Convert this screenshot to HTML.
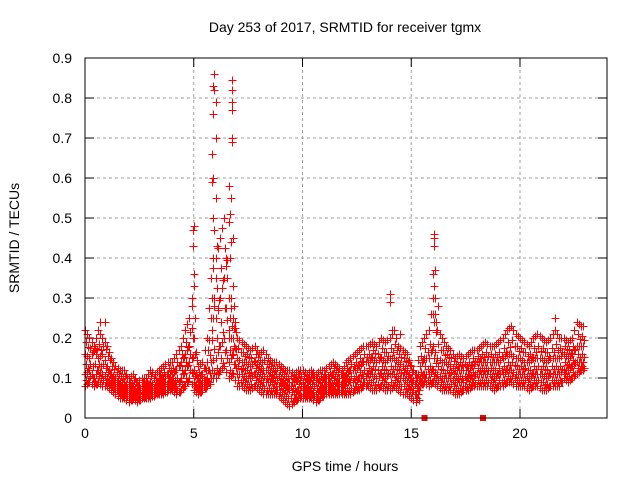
<!DOCTYPE html>
<html><head><meta charset="utf-8"><style>
body{margin:0;background:#fff}
svg{font-family:"Liberation Sans",sans-serif;display:block}
</style></head><body>
<svg id="c" width="640" height="480">
<rect width="640" height="480" fill="#fff"/>
<text x="345" y="32" font-size="14" text-anchor="middle">Day 253 of 2017, SRMTID for receiver tgmx</text>
<text transform="translate(19,238) rotate(-90)" font-size="14" text-anchor="middle">SRMTID / TECUs</text>
<text x="345" y="471" font-size="14" text-anchor="middle">GPS time / hours</text>
<g id="grid"></g><g id="pts" shape-rendering="crispEdges"></g>
<rect x="85" y="58" width="522" height="360" fill="none" stroke="#000" stroke-width="1"/>
</svg>
<script>
const xTicks=[0,5,10,15,20];
const yTicks=[0,0.1,0.2,0.3,0.4,0.5,0.6,0.7,0.8,0.9];
const yTickLabels=["0","0.1","0.2","0.3","0.4","0.5","0.6","0.7","0.8","0.9"];
const bandHi=[0.22,0.2,0.18,0.22,0.2, 0.18,0.15,0.13,0.12,0.12, 0.1,0.11,0.09,0.1,0.1, 0.12,0.11,0.12,0.13,0.14, 0.14,0.16,0.18,0.22,0.25, 0.2,0.13,0.14,0.2,0.35, 0.4,0.45,0.5,0.3,0.25, 0.2,0.19,0.18,0.17,0.18, 0.16,0.17,0.15,0.14,0.14, 0.13,0.12,0.12,0.11,0.12, 0.12,0.11,0.12,0.11,0.12, 0.12,0.13,0.14,0.13,0.12, 0.14,0.15,0.16,0.17,0.18, 0.18,0.19,0.18,0.2,0.19, 0.2,0.22,0.18,0.17,0.16, 0.13,0.11,0.18,0.2,0.22, 0.3,0.22,0.2,0.18,0.17, 0.15,0.16,0.15,0.16,0.17, 0.17,0.18,0.19,0.18,0.18, 0.19,0.2,0.22,0.23,0.21, 0.2,0.19,0.18,0.2,0.21, 0.2,0.19,0.2,0.22,0.2, 0.2,0.19,0.2,0.24,0.23];
const bandMidHi=[0.16,0.15,0.17,0.15,0.16, 0.13,0.11,0.1,0.09,0.09, 0.08,0.08,0.07,0.08,0.08, 0.09,0.08,0.1,0.1,0.11, 0.11,0.12,0.14,0.16,0.18, 0.12,0.1,0.11,0.14,0.25, 0.25,0.3,0.35,0.2,0.2, 0.15,0.14,0.14,0.13,0.14, 0.13,0.12,0.12,0.11,0.11, 0.1,0.09,0.09,0.09,0.1, 0.09,0.09,0.1,0.09,0.09, 0.1,0.1,0.11,0.1,0.1, 0.11,0.12,0.12,0.13,0.14, 0.14,0.15,0.14,0.15,0.14, 0.15,0.15,0.14,0.13,0.12, 0.1,0.09,0.13,0.15,0.15, 0.18,0.15,0.14,0.14,0.13, 0.12,0.12,0.12,0.12,0.13, 0.14,0.14,0.14,0.14,0.14, 0.14,0.15,0.16,0.16,0.15, 0.15,0.14,0.14,0.15,0.15, 0.15,0.14,0.15,0.15,0.15, 0.16,0.15,0.16,0.18,0.18];
const bandMidLo=[0.11,0.12,0.1,0.12,0.11, 0.1,0.09,0.08,0.07,0.07, 0.06,0.06,0.06,0.06,0.07, 0.07,0.07,0.08,0.08,0.09, 0.09,0.08,0.1,0.12,0.14, 0.09,0.08,0.09,0.1,0.14, 0.15,0.18,0.2,0.14,0.16, 0.11,0.11,0.1,0.1,0.11, 0.1,0.09,0.09,0.09,0.08, 0.08,0.07,0.07,0.06,0.07, 0.07,0.07,0.07,0.06,0.07, 0.08,0.08,0.08,0.08,0.08, 0.09,0.09,0.09,0.1,0.1, 0.11,0.11,0.1,0.11,0.1, 0.11,0.11,0.1,0.1,0.09, 0.08,0.06,0.1,0.11,0.11, 0.12,0.11,0.1,0.1,0.1, 0.09,0.09,0.09,0.1,0.1, 0.11,0.11,0.11,0.11,0.1, 0.11,0.11,0.12,0.12,0.11, 0.11,0.11,0.1,0.11,0.11, 0.11,0.1,0.11,0.11,0.11, 0.12,0.12,0.13,0.14,0.14];
const bandLo=[0.08,0.09,0.08,0.09,0.08, 0.08,0.07,0.06,0.05,0.05, 0.04,0.05,0.04,0.05,0.05, 0.05,0.06,0.06,0.06,0.07, 0.07,0.06,0.07,0.08,0.1, 0.07,0.06,0.07,0.08,0.1, 0.1,0.12,0.13,0.1,0.11, 0.08,0.08,0.07,0.07,0.08, 0.07,0.06,0.06,0.06,0.06, 0.05,0.04,0.03,0.04,0.05, 0.05,0.05,0.05,0.04,0.05, 0.06,0.06,0.06,0.06,0.06, 0.06,0.06,0.07,0.07,0.08, 0.08,0.07,0.07,0.08,0.07, 0.07,0.08,0.07,0.06,0.06, 0.05,0.04,0.08,0.09,0.08, 0.09,0.08,0.07,0.07,0.07, 0.06,0.06,0.07,0.07,0.08, 0.08,0.08,0.08,0.08,0.07, 0.08,0.08,0.09,0.09,0.08, 0.08,0.08,0.07,0.08,0.08, 0.07,0.07,0.08,0.08,0.08, 0.1,0.09,0.1,0.11,0.12];
const bandStep=0.2;
const spikeT=[4.9,5.0,5.0,4.95,5.0,4.95,5.05,4.9, 5.85,5.9,5.9,5.95,5.95,6.0,6.0,5.9,5.85,5.9,5.95,6.05,5.9,6.0,5.95,6.1,5.85,6.0, 6.75,6.75,6.75,6.75,6.75,6.75,6.6,6.7,6.65,6.6,6.8,6.7,6.5,6.65,6.8,6.7,6.85,6.55,6.6,6.9, 14.0,14.0,14.1,14.5, 16.05,16.05,16.05,16.1,16.05,16.0,16.1,16.0,16.15,16.25, 21.6,0.7,0.9];
const spikeV=[0.3,0.33,0.36,0.43,0.48,0.47,0.25,0.28, 0.66,0.76,0.83,0.86,0.82,0.79,0.7,0.6,0.59,0.5,0.47,0.43,0.4,0.35,0.3,0.27,0.22,0.55, 0.845,0.82,0.79,0.77,0.7,0.69,0.58,0.55,0.51,0.49,0.45,0.44,0.38,0.4,0.33,0.3,0.28,0.35,0.22,0.24, 0.31,0.29,0.22,0.21, 0.46,0.45,0.43,0.37,0.33,0.36,0.3,0.26,0.24,0.28, 0.25,0.24,0.24];
const axisMarkT=[15.6,18.3];
const NS="http://www.w3.org/2000/svg";
const X=t=>85+t*(522/24), Y=v=>418-v*400;
const grid=document.getElementById('grid'), pts=document.getElementById('pts');
function mk(tag,attrs,parent){const e=document.createElementNS(NS,tag);for(const k in attrs)e.setAttribute(k,attrs[k]);parent.appendChild(e);return e;}
xTicks.forEach(t=>{const x=X(t);
 if(t>0){const g=mk('line',{x1:x,x2:x,y1:58,y2:418,stroke:'#a0a0a0','stroke-dasharray':'3,3'},grid);
 
 }
 mk('line',{x1:x,x2:x,y1:418,y2:409,stroke:'#000'},grid);mk('line',{x1:x,x2:x,y1:58,y2:67,stroke:'#000'},grid);
 const l=mk('text',{x:x,y:438,'font-size':14,'text-anchor':'middle'},grid);l.textContent=t;
 
 });
yTicks.forEach((v,i)=>{const y=Y(v);
 if(i>0&&i<yTicks.length-1){const g=mk('line',{x1:85,x2:607,y1:y,y2:y,stroke:'#a0a0a0','stroke-dasharray':'3,3'},grid);
 
 }
 mk('line',{x1:85,x2:94,y1:y,y2:y,stroke:'#000'},grid);mk('line',{x1:607,x2:598,y1:y,y2:y,stroke:'#000'},grid);
 const l=mk('text',{x:72,y:y+5,'font-size':14,'text-anchor':'end'},grid);l.textContent=yTickLabels[i];
 
 });
function cross(t,v){const x=Math.round(X(t))+0.5,y=Math.round(Y(v))+0.5;
 const p=mk('path',{d:`M${x-4},${y}h8M${x},${y-4}v8`,stroke:'#f00','stroke-width':1},pts);
 
 }
const bands=[bandHi,bandMidHi,bandMidLo,bandLo];
bands.forEach((arr,b)=>arr.forEach((v,i)=>{
 const nxt=arr[i+1]!==undefined?arr[i+1]:v;
 cross(i*bandStep,v);cross(i*bandStep+0.1,(v+nxt)/2);
 if(b<3){const w=bands[b+1][i];cross(i*bandStep+0.05,(v+w)/2);cross(i*bandStep+0.15,(v*0.3+w*0.7));}
}));
spikeT.forEach((t,i)=>cross(t,spikeV[i]));
axisMarkT.forEach(t=>{const r=mk('rect',{x:X(t)-3,y:415,width:6,height:6,fill:'#f00'},pts);
 
 });
</script>
</body></html>
